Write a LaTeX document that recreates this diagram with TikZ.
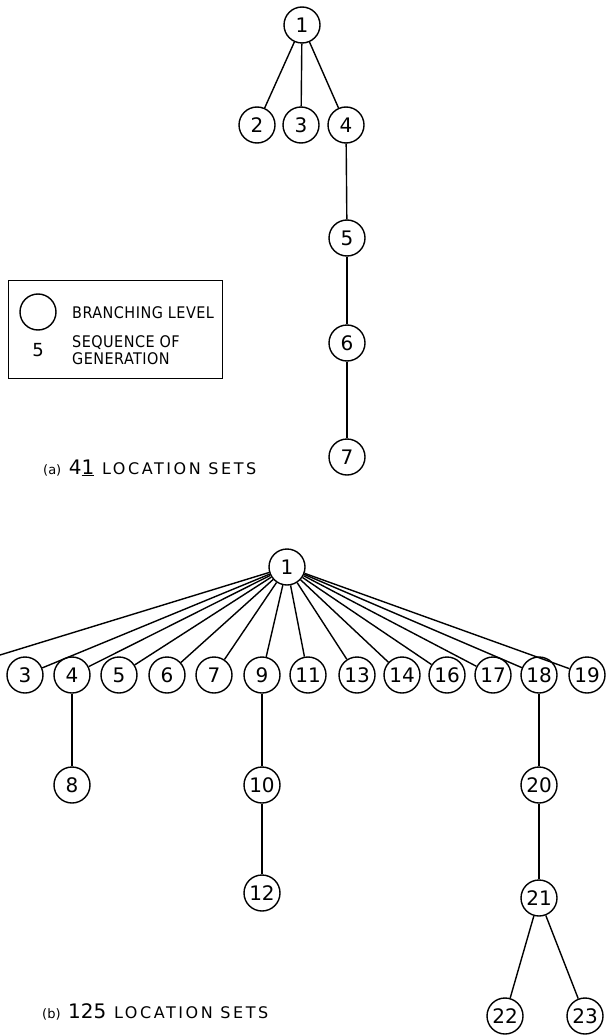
\documentclass[tikz,border=0pt]{standalone}
\usepackage{fontspec}
\setmainfont{DejaVu Sans}
\newfontfamily\numfont{DejaVu Sans}
\newfontfamily\capfont[LetterSpace=16]{DejaVu Sans}
\newfontfamily\parfont{DejaVu Sans}
\newfontfamily\legfont[LetterSpace=3]{DejaVu Sans Condensed}
\begin{document}
\begin{tikzpicture}[x=1pt,y=-1pt,
  nd/.style={circle,draw,line width=1.4pt,minimum size=36pt,inner sep=0pt,font=\numfont\fontsize{20}{22}\selectfont},
  ln/.style={line width=1.4pt},
  legtxt/.style={anchor=west,font=\legfont\fontsize{16}{17}\selectfont,align=left,inner sep=0pt},
  captxt/.style={anchor=west,font=\capfont\fontsize{16}{18}\selectfont,inner sep=0pt}]
\useasboundingbox (0,0) rectangle (606,1035);
% ---------- (a)
\node[nd] (a1) at (302,25) {1};
\node[nd] (a2) at (257,125) {2};
\node[nd] (a3) at (301,125) {3};
\node[nd] (a4) at (346,125) {4};
\node[nd] (a5) at (347,238) {5};
\node[nd] (a6) at (347,343) {6};
\node[nd] (a7) at (347,457) {7};
\draw[ln] (a1) -- (a2);
\draw[ln] (a1) -- (a3);
\draw[ln] (a1) -- (a4);
\draw[ln] (a4) -- (a5);
\draw[ln] (a5) -- (a6);
\draw[ln] (a6) -- (a7);
% legend
\node[draw,line width=1.4pt,minimum width=214pt,minimum height=98pt,anchor=north west,inner sep=0pt] (leg) at (8,280) {};
\node[circle,draw,line width=1.4pt,minimum size=36pt,inner sep=0pt] (legc) at (38,312) {};
\node[font=\numfont\fontsize{18}{20}\selectfont] (leg5) at (38,350) {5};
\node[legtxt] (legt1) at (72,313) {BRANCHING LEVEL};
\node[legtxt] (legt2) at (72,350) {SEQUENCE OF\\GENERATION};
\node[captxt] (capa) at (43,468) {{\parfont\fontsize{13}{15}\selectfont(a)}\ {\numfont\fontsize{20}{22}\selectfont 4\underline{1}}\ LOCATION SETS};
% ---------- (b)
\node[nd] (b1) at (287,567) {1};
\node[nd] (b3) at (25,675) {3};
\node[nd] (b4) at (72,675) {4};
\node[nd] (b5) at (119,675) {5};
\node[nd] (b6) at (167,675) {6};
\node[nd] (b7) at (214,675) {7};
\node[nd] (b9) at (262,675) {9};
\node[nd] (b11) at (308,675) {11};
\node[nd] (b13) at (357,675) {13};
\node[nd] (b14) at (402,675) {14};
\node[nd] (b16) at (447,675) {16};
\node[nd] (b17) at (493,675) {17};
\node[nd] (b18) at (539,675) {18};
\node[nd] (b19) at (587,675) {19};
\node[nd] (b8) at (72,785) {8};
\node[nd] (b10) at (262,785) {10};
\node[nd] (b12) at (262,893) {12};
\node[nd] (b20) at (539,785) {20};
\node[nd] (b21) at (539,898) {21};
\node[nd] (b22) at (505,1016) {22};
\node[nd] (b23) at (585,1016) {23};
\coordinate (b2) at (0,655);
\draw[ln] (b1) -- (b2);
\foreach \k in {3,4,5,6,7,9,11,13,14,16,17,18,19}{\draw[ln] (b1) -- (b\k);}
\draw[ln] (b4) -- (b8);
\draw[ln] (b9) -- (b10);
\draw[ln] (b10) -- (b12);
\draw[ln] (b18) -- (b20);
\draw[ln] (b20) -- (b21);
\draw[ln] (b21) -- (b22);
\draw[ln] (b21) -- (b23);
\node[captxt] (capb) at (42,1012) {{\parfont\fontsize{13}{15}\selectfont(b)}\ {\numfont\fontsize{20}{22}\selectfont 125}\ LOCATION SETS};
\end{tikzpicture}
\end{document}
